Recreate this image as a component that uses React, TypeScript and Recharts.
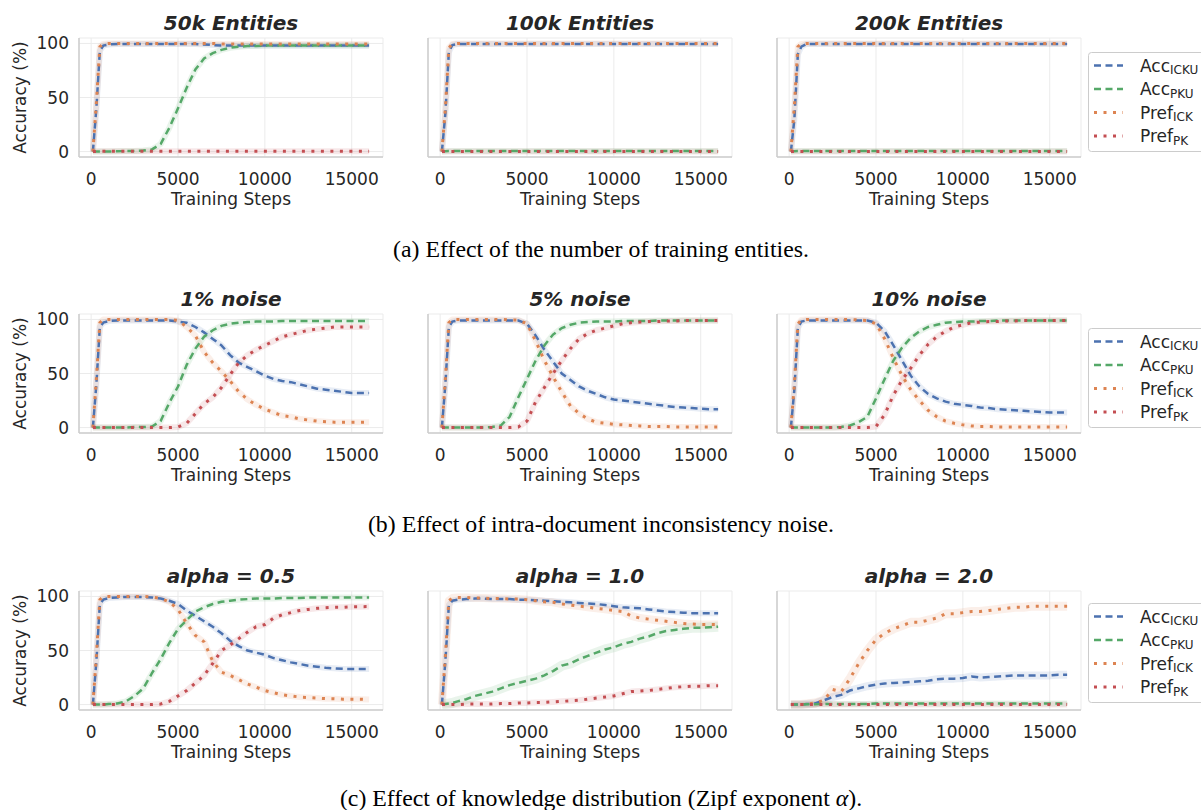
import React from "react";
import { LineChart, Line, XAxis, YAxis, CartesianGrid } from "recharts";

// training steps shared by every panel
const STEPS = [100, 300, 500, 700, 1000, 1500, 2000, 2500, 3000, 3500, 4000, 4500, 5000, 5500, 6000, 6500, 7000, 7500, 8000, 8500, 9000, 9500, 10000, 10500, 11000, 11500, 12000, 12500, 13000, 13500, 14000, 14500, 15000, 15500, 16000];

const X_TICKS = [0, 5000, 10000, 15000];
const Y_TICKS = [0, 50, 100];

// (a) number of training entities
const ent50AccIcku = [0, 40, 93, 98, 99, 99.5, 99.5, 99.5, 99.5, 99.5, 99.5, 99.5, 99.5, 99.5, 99.5, 99, 98.5, 98, 98, 98, 98, 98, 98, 98, 98, 98, 98, 98, 98, 98, 98, 98, 98, 98, 98];
const ent50AccPku = [0, 0, 0, 0, 0, 0.3, 0.5, 0.5, 1, 2, 7, 22, 40, 59, 76, 86, 91, 94, 96, 97, 97.5, 97.5, 98, 98, 98, 98, 98, 98, 98, 98, 98, 98, 98, 98, 98];
const ent50PrefIck = [0, 45, 97, 99.5, 100, 100, 100, 100, 100, 100, 100, 100, 100, 100, 100, 100, 100, 99.5, 99.5, 99.5, 99.5, 99.5, 99.5, 99.5, 99.5, 99.5, 99.5, 99.5, 99.5, 99.5, 99.5, 99.5, 99.5, 99.5, 99.5];
const ent50PrefPk = [0, 0.2, 0.3, 0.3, 0.3, 0.3, 0.3, 0.3, 0.3, 0.3, 0.3, 0.3, 0.3, 0.3, 0.3, 0.3, 0.3, 0.3, 0.3, 0.3, 0.3, 0.3, 0.3, 0.3, 0.3, 0.3, 0.3, 0.3, 0.3, 0.3, 0.3, 0.3, 0.3, 0.3, 0.3];

const ent100AccIcku = [0, 35, 92, 98.5, 99.5, 99.5, 99.5, 99.5, 99.5, 99.5, 99.5, 99.5, 99.5, 99.5, 99.5, 99.5, 99.5, 99.5, 99.5, 99.5, 99.5, 99.5, 99.5, 99.5, 99.5, 99.5, 99.5, 99.5, 99.5, 99.5, 99.5, 99.5, 99.5, 99.5, 99.5];
const ent100AccPku = [0, 0.3, 0.5, 0.5, 0.5, 0.5, 0.5, 0.5, 0.5, 0.5, 0.5, 0.5, 0.5, 0.5, 0.5, 0.5, 0.5, 0.5, 0.5, 0.5, 0.5, 0.5, 0.5, 0.5, 0.5, 0.5, 0.5, 0.5, 0.5, 0.5, 0.5, 0.5, 0.5, 0.5, 0.5];
const ent100PrefIck = [0, 40, 96, 99.5, 100, 100, 100, 100, 100, 100, 100, 100, 100, 100, 100, 100, 100, 100, 100, 100, 100, 100, 100, 100, 100, 100, 100, 100, 100, 100, 100, 100, 100, 100, 100];
const ent100PrefPk = [0, 0.2, 0.2, 0.2, 0.2, 0.2, 0.2, 0.2, 0.2, 0.2, 0.2, 0.2, 0.2, 0.2, 0.2, 0.2, 0.2, 0.2, 0.2, 0.2, 0.2, 0.2, 0.2, 0.2, 0.2, 0.2, 0.2, 0.2, 0.2, 0.2, 0.2, 0.2, 0.2, 0.2, 0.2];

const ent200AccIcku = [0, 30, 90, 97, 99.5, 99.5, 99.5, 99.5, 99.5, 99.5, 99.5, 99.5, 99.5, 99.5, 99.5, 99.5, 99.5, 99.5, 99.5, 99.5, 99.5, 99.5, 99.5, 99.5, 99.5, 99.5, 99.5, 99.5, 99.5, 99.5, 99.5, 99.5, 99.5, 99.5, 99.5];
const ent200AccPku = [0, 0.3, 0.5, 0.5, 0.5, 0.5, 0.5, 0.5, 0.5, 0.5, 0.5, 0.5, 0.5, 0.5, 0.5, 0.5, 0.5, 0.5, 0.5, 0.5, 0.5, 0.5, 0.5, 0.5, 0.5, 0.5, 0.5, 0.5, 0.5, 0.5, 0.5, 0.5, 0.5, 0.5, 0.5];
const ent200PrefIck = [0, 42, 97, 99.5, 100, 100, 100, 100, 100, 100, 100, 100, 100, 100, 100, 100, 100, 100, 100, 100, 100, 100, 100, 100, 100, 100, 100, 100, 100, 100, 100, 100, 100, 100, 100];
const ent200PrefPk = [0, 0.2, 0.2, 0.2, 0.2, 0.2, 0.2, 0.2, 0.2, 0.2, 0.2, 0.2, 0.2, 0.2, 0.2, 0.2, 0.2, 0.2, 0.2, 0.2, 0.2, 0.2, 0.2, 0.2, 0.2, 0.2, 0.2, 0.2, 0.2, 0.2, 0.2, 0.2, 0.2, 0.2, 0.2];

// (b) intra-document inconsistency noise
const noise1AccIcku = [0, 40, 93, 97, 98.5, 99, 99, 99, 99, 99, 99, 99, 98, 97, 93, 88, 82, 76, 67, 60, 56, 52, 48, 45, 43, 42, 40, 38, 36, 35, 34, 33, 32, 32, 32];
const noise1AccPku = [0, 0, 0, 0, 0, 0, 0, 0.5, 0.5, 1, 6, 23, 38, 58, 73, 84, 90, 94, 96, 97, 97.5, 98, 98, 98, 98.5, 98.5, 98.5, 98.5, 98.5, 98.5, 98.5, 98.5, 98.5, 98.5, 98.5];
const noise1PrefIck = [0, 45, 97, 100, 100, 100, 100, 100, 100, 100, 100, 100, 99, 93, 85, 70, 60, 52, 43, 33, 26, 21, 17, 14, 11, 10, 8, 7, 6, 5.5, 5, 5, 5, 5, 5];
const noise1PrefPk = [0, 0, 0, 0, 0, 0, 0, 0, 0, 0, 0, 0, 0.5, 4, 13, 22, 28, 37, 49, 60, 67, 72, 76, 80, 84, 86, 88, 90, 91, 92, 93, 93, 93, 93, 93];

const noise5AccIcku = [0, 40, 93, 98, 99, 99, 99, 99, 99, 99, 99, 99, 96, 85, 72, 61, 50, 44, 38, 34, 31, 28, 26, 25, 24, 23, 22, 21, 20, 19, 18.5, 18, 17.5, 17, 17];
const noise5AccPku = [0, 0, 0, 0, 0, 0, 0, 0, 0.5, 2, 10, 28, 45, 62, 76, 86, 92, 95, 97, 97.5, 98, 98, 98, 98.5, 98.5, 98.5, 98.5, 99, 99, 99, 99, 99, 99, 99, 99];
const noise5PrefIck = [0, 45, 97, 100, 100, 100, 100, 100, 100, 100, 99.5, 99.5, 96, 80, 62, 47, 33, 20, 13, 8, 5, 4, 3, 2.5, 2, 1.5, 1, 1, 1, 0.5, 0.5, 0.5, 0.5, 0.5, 0.5];
const noise5PrefPk = [0, 0, 0, 0, 0, 0, 0, 0, 0, 0, 0, 0.5, 6, 24, 37, 50, 62, 73, 82, 87, 90, 92, 94, 96, 97, 97.5, 98, 98, 98.5, 98.5, 99, 99, 99, 99, 99];

const noise10AccIcku = [0, 35, 92, 98, 99, 99, 99, 99, 99, 99, 99, 99, 97, 89, 76, 62, 48, 38, 31, 27, 24, 22, 21, 20, 18.5, 18, 17, 16.5, 16, 15.5, 15, 14.5, 14, 14, 14];
const noise10AccPku = [0, 0, 0, 0, 0, 0, 0, 0, 0.5, 2, 5, 10, 27, 45, 62, 74, 83, 89, 93, 95, 97, 97.5, 98, 98, 98.5, 98.5, 99, 99, 99, 99, 99, 99, 99, 99, 99];
const noise10PrefIck = [0, 40, 96, 99.5, 100, 100, 100, 100, 100, 100, 99.5, 99, 96, 82, 64, 48, 35, 25, 16, 10, 6, 4, 2.5, 1.5, 1, 1, 0.5, 0.5, 0.5, 0.5, 0.5, 0.5, 0.5, 0.5, 0.5];
const noise10PrefPk = [0, 0, 0, 0, 0, 0, 0, 0, 0, 0, 0, 0, 1, 12, 30, 44, 55, 67, 77, 84, 89, 93, 95, 97, 97.5, 98, 98, 98.5, 98.5, 99, 99, 99, 99, 99, 99];

// (c) knowledge distribution (Zipf exponent)
const alpha05AccIcku = [0, 40, 93, 97, 98.5, 99, 99.5, 99.5, 99.5, 99, 98, 96, 93, 87, 82, 77, 72, 66, 59, 54, 50, 48, 46, 43, 41, 39, 37.5, 36, 35, 34, 33.5, 33, 33, 33, 33];
const alpha05AccPku = [0, 0, 0, 0, 0.5, 1, 3, 8, 15, 29, 42, 57, 70, 78, 86, 90, 93, 95, 96, 97, 97.5, 98, 98, 98, 98.5, 98.5, 98.5, 99, 99, 99, 99, 99, 99, 99, 99];
const alpha05PrefIck = [0, 45, 97, 100, 100, 100, 100, 100, 100, 99.5, 98, 95, 88, 75, 64, 58, 40, 30, 27, 23, 19, 16, 13, 11, 9, 8, 7, 6.5, 6, 5.5, 5.5, 5, 5, 5, 4.7];
const alpha05PrefPk = [0, 0, 0, 0, 0, 0, 0, 0, 0, 0, 0.5, 3, 8, 13, 20, 27, 38, 50, 55, 61, 67, 72, 74, 80, 83, 85, 87, 88, 89, 89.5, 90, 90, 90.5, 90.5, 90.6];

const alpha10AccIcku = [0, 40, 92, 96, 97, 97.5, 98, 98, 97.5, 97.5, 97.5, 97, 97, 96.5, 96, 95.5, 95, 94.5, 94, 93.5, 93, 92, 91, 90, 89.5, 89, 88, 87, 86, 85.5, 85, 84.5, 84.5, 84.5, 84.5];
const alpha10AccPku = [0, 0.5, 1, 1.5, 3, 5, 8, 10, 12, 15, 18, 20, 22, 24, 27, 31, 36, 38, 42, 45, 48, 51, 53, 56, 58, 61, 63, 66, 68, 69, 70, 71, 71, 71.5, 72];
const alpha10PrefIck = [0, 45, 96, 98.5, 99, 99, 98.5, 98.5, 98, 98, 97.5, 97.5, 97, 96, 95, 94.5, 93, 92, 91, 90, 89, 88, 87, 86, 82, 80, 79, 78, 77, 76, 75, 74.5, 74, 74, 74];
const alpha10PrefPk = [0, 0, 0, 0, 0, 0.5, 0.5, 0.5, 0.5, 1, 1, 1.5, 1.5, 2, 2, 2.5, 3, 3.5, 4, 5, 6, 7, 8, 10, 12, 12.5, 13, 14, 15, 16, 16.5, 17, 17, 17.5, 17.5];

const alpha20AccIcku = [0, 0, 0, 0, 0.5, 1, 4, 7, 9, 13, 15, 17, 18.5, 19.5, 20, 20.5, 21, 21.5, 22, 23.5, 24, 24, 24.5, 26, 25, 25.5, 26, 26.5, 27, 27, 27, 27, 27, 27.5, 27.5];
const alpha20AccPku = [0, 0, 0, 0, 0.3, 0.3, 0.5, 0.5, 0.5, 0.5, 0.5, 0.5, 1, 1, 1, 1, 1, 1, 1, 1, 1, 1, 1, 1, 1, 1, 1, 1, 1, 1, 1, 1, 1, 1, 1];
const alpha20PrefIck = [0, 0, 0, 0, 0.5, 1.5, 4, 14, 12, 24, 38, 50, 60, 66, 70, 73, 76, 76, 78, 80, 84, 84, 85, 86, 86, 87, 88, 89, 90, 90, 91, 91, 91, 91, 91];
const alpha20PrefPk = [0, 0, 0, 0, 0, 0, 0, 0, 0, 0, 0, 0, 0, 0, 0, 0, 0, 0, 0, 0, 0, 0, 0, 0, 0, 0, 0, 0, 0, 0, 0, 0, 0, 0, 0];

const BLUE = "#4c72b0";
const GREEN = "#55a868";
const ORANGE = "#dd8452";
const RED = "#c44e52";
const TEXT = "#262626";

const SERIES = [
  { key: "accIcku", color: BLUE, dash: "7 4.5", width: 2.5, name: "Acc", sub: "ICKU" },
  { key: "accPku", color: GREEN, dash: "7 4.5", width: 2.5, name: "Acc", sub: "PKU" },
  { key: "prefIck", color: ORANGE, dash: "3 6.5", width: 3, name: "Pref", sub: "ICK" },
  { key: "prefPk", color: RED, dash: "3 6.5", width: 3, name: "Pref", sub: "PK" },
];

const PANELS = [
  [
    { title: "50k Entities", accIcku: ent50AccIcku, accPku: ent50AccPku, prefIck: ent50PrefIck, prefPk: ent50PrefPk },
    { title: "100k Entities", accIcku: ent100AccIcku, accPku: ent100AccPku, prefIck: ent100PrefIck, prefPk: ent100PrefPk },
    { title: "200k Entities", accIcku: ent200AccIcku, accPku: ent200AccPku, prefIck: ent200PrefIck, prefPk: ent200PrefPk },
  ],
  [
    { title: "1% noise", accIcku: noise1AccIcku, accPku: noise1AccPku, prefIck: noise1PrefIck, prefPk: noise1PrefPk },
    { title: "5% noise", accIcku: noise5AccIcku, accPku: noise5AccPku, prefIck: noise5PrefIck, prefPk: noise5PrefPk },
    { title: "10% noise", accIcku: noise10AccIcku, accPku: noise10AccPku, prefIck: noise10PrefIck, prefPk: noise10PrefPk },
  ],
  [
    { title: "alpha = 0.5", accIcku: alpha05AccIcku, accPku: alpha05AccPku, prefIck: alpha05PrefIck, prefPk: alpha05PrefPk },
    { title: "alpha = 1.0", accIcku: alpha10AccIcku, accPku: alpha10AccPku, prefIck: alpha10PrefIck, prefPk: alpha10PrefPk, bands: { accPku: 10, prefIck: 8 } },
    { title: "alpha = 2.0", accIcku: alpha20AccIcku, accPku: alpha20AccPku, prefIck: alpha20PrefIck, prefPk: alpha20PrefPk, bands: { accIcku: 8, prefIck: 9 } },
  ],
];

const CAPTIONS = [
  "(a) Effect of the number of training entities.",
  "(b) Effect of intra-document inconsistency noise.",
  "(c) Effect of knowledge distribution (Zipf exponent ",
];

// layout
const PLOT_TOP = [38, 314, 591];
const PLOT_H = 119;
const PLOT_W = 304;
const COL_STEP = 349;
const AXIS_W = 79;
const LEGEND_TOP = [52, 328, 603];
const CAPTION_Y = [256.5, 531.5, 806];

function Panel({ p, row, col }: any) {
  const data = STEPS.map((s, i) => ({
    step: s,
    accIcku: p.accIcku[i],
    accPku: p.accPku[i],
    prefIck: p.prefIck[i],
    prefPk: p.prefPk[i],
  }));
  const bands = p.bands || {};
  return (
    <div style={{ position: "absolute", left: col * COL_STEP, top: PLOT_TOP[row] - 37 }}>
      <LineChart width={AXIS_W + PLOT_W + 10} height={220} data={data} margin={{ top: 37, right: 10, bottom: 10, left: 0 }}>
        <CartesianGrid stroke="#ebebeb" strokeWidth={1} />
        <XAxis
          dataKey="step"
          type="number"
          domain={[-700, 16800]}
          ticks={X_TICKS}
          allowDataOverflow
          tickLine={false}
          axisLine={{ stroke: "#cccccc", strokeWidth: 1.5 }}
          tick={{ fill: TEXT, fontSize: 17 }}
          tickMargin={10}
          height={54}
        />
        <YAxis
          type="number"
          domain={[-5, 105]}
          ticks={Y_TICKS}
          allowDataOverflow
          width={AXIS_W}
          tickLine={false}
          axisLine={{ stroke: "#cccccc", strokeWidth: 1.5 }}
          tick={col === 0 ? { fill: TEXT, fontSize: 17 } : false}
          tickMargin={4}
        />
        {SERIES.map((s) => (
          <Line
            key={s.key + "-band"}
            dataKey={s.key}
            type="linear"
            stroke={s.color}
            strokeOpacity={0.13}
            strokeWidth={bands[s.key] || 6}
            strokeLinejoin="round"
            dot={false}
            activeDot={false}
            isAnimationActive={false}
          />
        ))}
        {SERIES.map((s) => (
          <Line
            key={s.key}
            dataKey={s.key}
            type="linear"
            stroke={s.color}
            strokeWidth={s.width}
            strokeDasharray={s.dash}
            dot={false}
            activeDot={false}
            isAnimationActive={false}
          />
        ))}
      </LineChart>
    </div>
  );
}

function Legend({ top }: { top: number }) {
  return (
    <g>
      <rect x={1088.5} y={top + 0.5} width={125} height={99} rx={3} fill="#ffffff" fillOpacity={0.8} stroke="#cccccc" strokeWidth={1} />
      {SERIES.map((s, k) => {
        const y = top + 13.5 + k * 23.5;
        return (
          <g key={s.key}>
            <line x1={1094} x2={1123} y1={y} y2={y} stroke={s.color} strokeWidth={s.width} strokeDasharray={s.dash} />
            <text x={1140} y={y + 6} fill={TEXT} fontSize={17}>
              {s.name}
              <tspan fontSize={12} dy={2.5}>{s.sub}</tspan>
            </text>
          </g>
        );
      })}
    </g>
  );
}

export default function App() {
  return (
    <div
      style={{
        position: "absolute",
        left: 0,
        top: 0,
        width: 1201,
        height: 810,
        overflow: "hidden",
        background: "#ffffff",
        fontFamily: "'DejaVu Sans', sans-serif",
      }}
    >
      {PANELS.map((rowPanels, r) =>
        rowPanels.map((p, c) => <Panel key={r + "-" + c} p={p} row={r} col={c} />)
      )}
      <svg width={1201} height={810} style={{ position: "absolute", left: 0, top: 0, pointerEvents: "none" }}>
        {PANELS.map((rowPanels, r) => (
          <g key={r}>
            {rowPanels.map((p, c) => {
              const cx = AXIS_W + c * COL_STEP + PLOT_W / 2;
              return (
                <g key={c}>
                  <text x={cx} y={PLOT_TOP[r] - 8} textAnchor="middle" fill={TEXT} fontSize={20} fontWeight="bold" fontStyle="italic">
                    {p.title}
                  </text>
                  <text x={cx} y={PLOT_TOP[r] + PLOT_H + 48} textAnchor="middle" fill={TEXT} fontSize={17}>
                    Training Steps
                  </text>
                </g>
              );
            })}
            <text
              x={26}
              y={PLOT_TOP[r] + PLOT_H / 2}
              textAnchor="middle"
              fill={TEXT}
              fontSize={17}
              transform={`rotate(-90, 26, ${PLOT_TOP[r] + PLOT_H / 2})`}
            >
              Accuracy (%)
            </text>
            <Legend top={LEGEND_TOP[r]} />
            <text x={601} y={CAPTION_Y[r]} textAnchor="middle" fill="#000000" fontSize={23.8} fontFamily="'Liberation Serif', serif">
              {CAPTIONS[r]}
              {r === 2 ? (
                <>
                  <tspan fontStyle="italic">α</tspan>
                  <tspan>).</tspan>
                </>
              ) : null}
            </text>
          </g>
        ))}
      </svg>
    </div>
  );
}
